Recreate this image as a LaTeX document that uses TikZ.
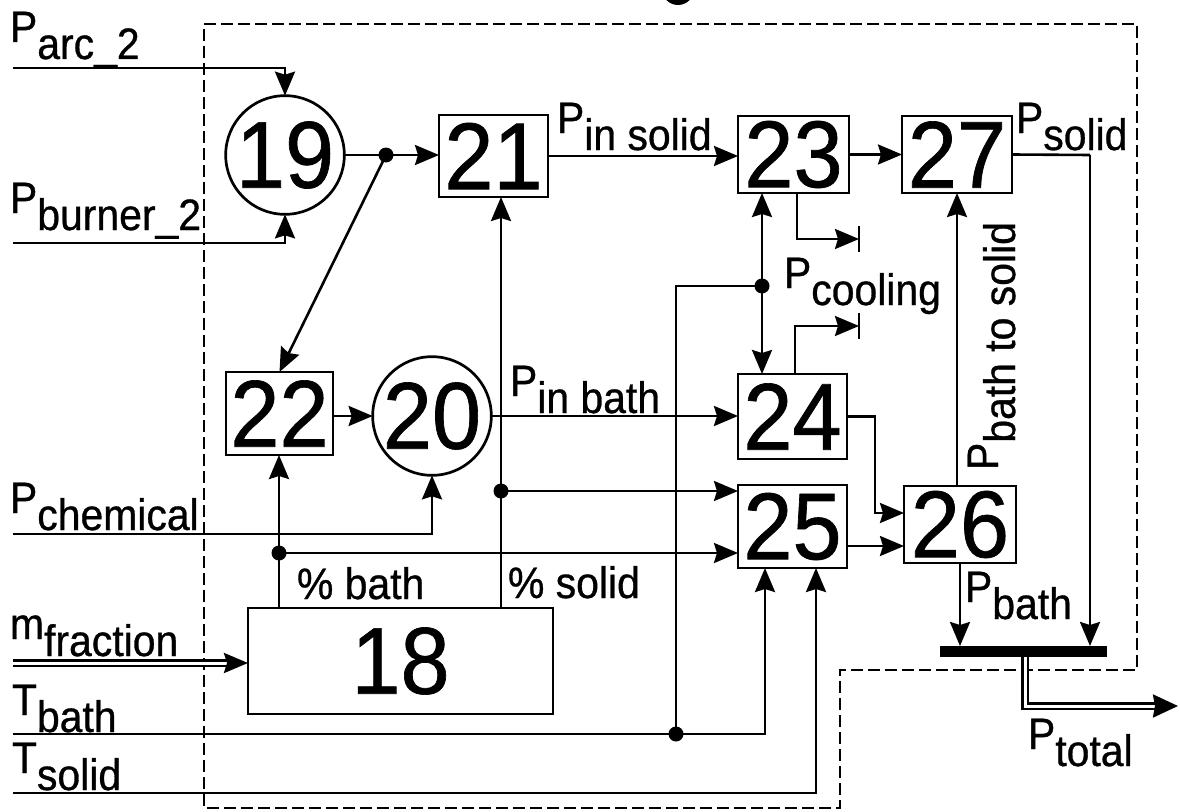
\documentclass[tikz,border=0pt]{standalone}
\usepackage{fontspec}
\setmainfont{Liberation Sans}[FakeStretch=0.93,FakeBold=0.7]
\usetikzlibrary{arrows.meta}
\newcommand{\sbs}[1]{\raisebox{-17bp}{#1}}
\newcommand{\numfont}{\fontsize{95bp}{95bp}\selectfont}
\newcommand{\lblfont}{\fontsize{44bp}{44bp}\selectfont}
\begin{document}
\begin{tikzpicture}[x=1bp,y=-1bp,
  every node/.style={inner sep=0pt, outer sep=0pt},
  box/.style={draw, line width=2.7bp, font=\numfont},
  circ/.style={draw, circle, line width=2.7bp, minimum size=116bp, font=\numfont},
  lbl/.style={anchor=base west, font=\lblfont},
  wire/.style={line width=2.6bp},
  arr/.style={wire, -{Stealth[length=24bp,width=20bp,inset=3bp]}},
  arrbig/.style={wire, -{Stealth[length=25bp,width=23bp,inset=2bp]}},
  dbl/.style={line width=2.2bp, double, double distance=3bp},
  dot/.style={circle, fill, minimum size=15bp},
  bound/.style={line width=2.2bp, dash pattern=on 12bp off 5bp}]
\useasboundingbox (0,0) rectangle (1180,812);
\fill (678,-11) circle[radius=16bp];
% boundary
\draw[bound] (204,24) -- (1137,24) -- (1137,670) -- (840,670) -- (840,808) -- (204,808) -- cycle;
% inputs
\coordinate (inArc) at (13,68);
\coordinate (inBurn) at (13,243);
\coordinate (inChem) at (13,534);
\coordinate (inM) at (13,663);
\coordinate (inTb) at (13,734);
\coordinate (inTs) at (13,793);
% blocks
\node[circ] (c19) at (285,155) {19};
\node[box, minimum width=109bp, minimum height=82bp] (b21) at (493.5,156) {21};
\node[box, minimum width=111bp, minimum height=77bp] (b23) at (793.5,154.5) {23};
\node[box, minimum width=110bp, minimum height=77bp] (b27) at (957,154.5) {27};
\node[box, minimum width=107bp, minimum height=83bp] (b22) at (279.5,413.5) {22};
\node[circ] (c20) at (432,416) {20};
\node[box, minimum width=109bp, minimum height=85bp] (b24) at (792.5,416.5) {24};
\node[box, minimum width=109bp, minimum height=83bp] (b25) at (792.5,526.5) {25};
\node[box, minimum width=112bp, minimum height=77bp] (b26) at (960,524.5) {26};
\node[box, minimum width=305bp, minimum height=106bp] (b18) at (400.5,661) {18};
\node[fill, minimum width=167bp, minimum height=11bp] (bus) at (1023.5,651.5) {};
% junctions
\node[dot] (j1) at (386,155) {};
\node[dot] (j2) at (501,491) {};
\node[dot] (j3) at (279,553) {};
\node[dot] (jc) at (762,286) {};
\node[dot] (jt) at (676,734) {};
% helper coordinates
\coordinate (co1) at (797,239);
\coordinate (tk1) at (859,239);
\coordinate (co2) at (795,326);
\coordinate (tk2) at (859,326);
\coordinate (k1) at (875,513);
\coordinate (k2) at (876,546);
\coordinate (ps) at (1090,155);
\coordinate (pb) at (957,300);
\coordinate (tb) at (765,734);
\coordinate (ts) at (816,793);
\coordinate (ot) at (1025,706);
\coordinate (oe1) at (1160,706);
\coordinate (oe) at (1178,706);
\coordinate (mf) at (234,663);
% connectors
\draw[arr] (inArc) -| (c19.north);
\draw[arr] (inBurn) -| (c19.south);
\draw[wire] (c19.east) -- (j1.center);
\draw[arr] (j1.center) -- (j1.center -| b21.west);
\draw[arr] (j1.center) -- (b22.north);
\draw[arr] (c20.west -| b22.east) -- (c20.west);
\draw[arr] (c20.east) -- (c20.east -| b24.west);
\draw[arr] (inChem) -| (c20.south);
\draw[wire] (j3.center |- b18.north) -- (j3.center);
\draw[arr] (j3.center) -- (j3.center |- b22.south);
\draw[arr] (j3.center) -- (j3.center -| b25.west);
\draw[wire] (j2.center |- b18.north) -- (j2.center);
\draw[arr] (j2.center) -- (j2.center |- b21.south);
\draw[arr] (j2.center) -- (j2.center -| b25.west);
\draw[arr] (b21.east) -- (b21.east -| b23.west);
\draw[arr] (b23.east) -- (b23.east -| b27.west);
\draw[wire] (b27.east) -- (ps);
\draw[arr] (ps) -- (ps |- bus.north);
\draw[arr] (co1 |- b23.south) -- (co1) -- (tk1);
\draw[wire] ([yshift=13bp]tk1) -- ([yshift=-13bp]tk1);
\draw[arr] (co2 |- b24.north) -- (co2) -- (tk2);
\draw[wire] ([yshift=13bp]tk2) -- ([yshift=-13bp]tk2);
\draw[arr] (jc.center) -- (jc.center |- b23.south);
\draw[arr] (jc.center) -- (jc.center |- b24.north);
\draw[wire] (jc.center) -| (jt.center);
\draw[wire] (inTb) -- (jt.center);
\draw[arr] (jt.center) -- (tb) -- (tb |- b25.south);
\draw[arr] (inTs) -- (ts) -- (ts |- b25.south);
\draw[arr] (b24.east) -| (k1) -- (k1 -| b26.west);
\draw[arr] (k2 -| b25.east) -- (k2 -| b26.west);
\draw[arr] (pb |- b26.north) -- (pb |- b27.south);
\draw[arr] (b26.south) -- (b26.south |- bus.north);
\draw[dbl] (ot |- bus.south) -- (ot) -- (oe1);
\draw[arrbig] (oe1) -- (oe);
\draw[dbl] (inM) -- (mf);
\draw[arr] (mf) -- (mf -| b18.west);
% labels
\node[lbl] (lArc) at (10,42) {P\sbs{arc\_2}};
\node[lbl] (lBurn) at (10,213) {P\sbs{burner\_2}};
\node[lbl] (lChem) at (10,513) {P\sbs{chemical}};
\node[lbl] (lM) at (10,639) {m\sbs{fraction}};
\node[lbl] (lTb) at (12,715) {T\sbs{bath}};
\node[lbl] (lTs) at (12,773) {T\sbs{solid}};
\node[lbl] (lIns) at (557,133) {P\sbs{in solid}};
\node[lbl] (lSol) at (1016,133) {P\sbs{solid}};
\node[lbl] (lCool) at (784,288) {P\sbs{cooling}};
\node[lbl] (lInb) at (510,396) {P\sbs{in bath}};
\node[lbl] (lBath) at (965,602) {P\sbs{bath}};
\node[lbl] (lTot) at (1028,749) {P\sbs{total}};
\node[lbl] (lPb) at (297,599) {\% bath};
\node[lbl] (lPs) at (508,598) {\% solid};
\node[lbl, rotate=90] (lBts) at (998,470) {P\sbs{bath to solid}};
\end{tikzpicture}
\end{document}
